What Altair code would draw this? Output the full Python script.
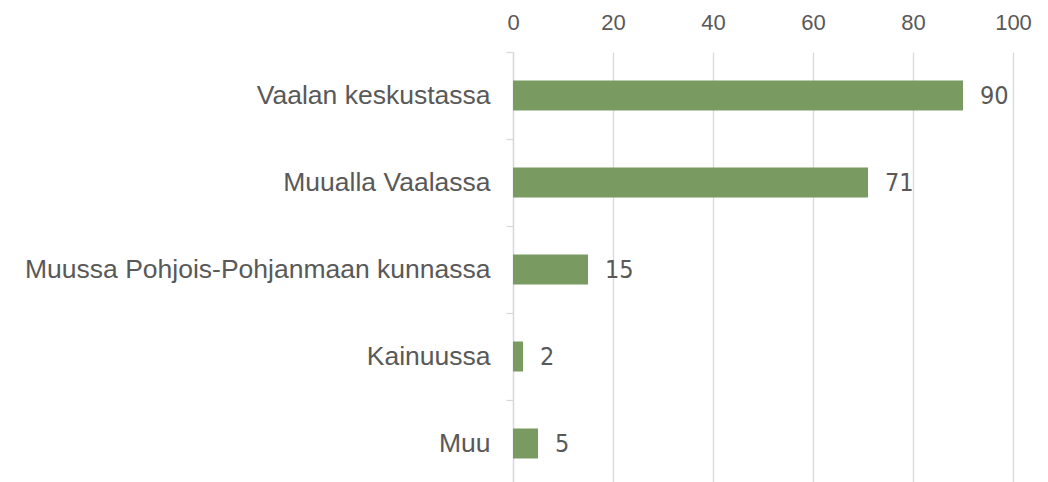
import altair as alt
import pandas as pd

categories = ["Vaalan keskustassa", "Muualla Vaalassa", "Muussa Pohjois-Pohjanmaan kunnassa", "Kainuussa", "Muu"]
values = [90, 71, 15, 2, 5]
x_ticks = [0, 20, 40, 60, 80, 100]

df = pd.DataFrame({"category": categories, "value": values})

GRAY_TEXT = "#595959"
GRID = "#d9d9d9"
BAR = "#799b62"

x_enc = alt.X(
    "value:Q",
    scale=alt.Scale(domain=[0, 100], nice=False),
    axis=alt.Axis(
        orient="top", values=x_ticks, title=None, domain=False, ticks=False,
        grid=True, gridColor=GRID, gridWidth=1.3, labelFlush=False,
        labelFont="Liberation Sans", labelFontSize=22, labelColor=GRAY_TEXT,
        labelPadding=18,
    ),
)
y_enc = alt.Y(
    "category:N",
    sort=categories,
    scale=alt.Scale(paddingInner=0, paddingOuter=0, range=[0, 435]),
    axis=alt.Axis(
        title=None, domain=True, domainColor=GRID, domainWidth=1.3,
        ticks=True, tickBand="extent", tickSize=7, tickColor=GRID, tickWidth=1.3,
        labelFont="Liberation Sans", labelFontSize=26.5, labelColor=GRAY_TEXT,
        labelPadding=16, labelLimit=600, grid=False,
    ),
)

bars = alt.Chart(df).mark_bar(color=BAR, height={"band": 0.345}).encode(x=x_enc, y=y_enc)
labels = alt.Chart(df).mark_text(
    align="left", baseline="middle", dx=17,
    font="DejaVu Sans Condensed, Liberation Sans", fontSize=25, color=GRAY_TEXT,
).encode(x="value:Q", y=alt.Y("category:N", sort=categories), text="value:Q")

chart = (bars + labels).properties(
    width=500, height=430,
    autosize=alt.AutoSizeParams(type="none"),
    padding={"left": 505, "top": 44, "right": 27, "bottom": 0},
).configure_view(stroke=None)

chart.save("out.html", embed_options={"renderer": "svg", "actions": False})
